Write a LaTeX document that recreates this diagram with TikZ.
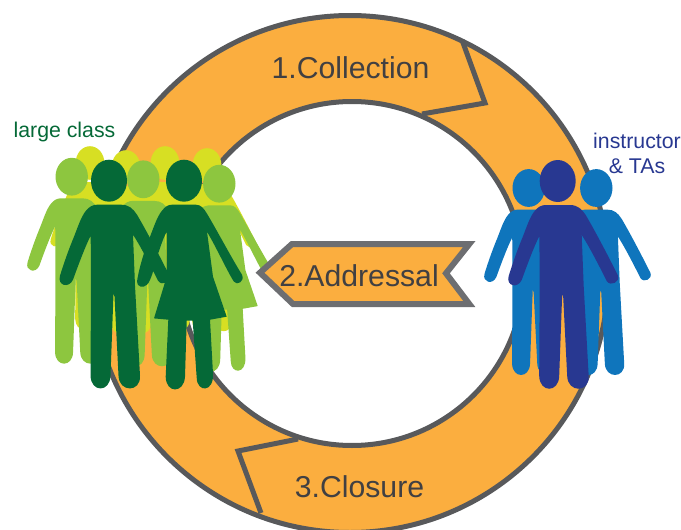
\documentclass[tikz,border=0pt]{standalone}
\usepackage{fontspec}
\setmainfont{Liberation Sans}
\definecolor{ringOrange}{HTML}{FBAE3F}
\definecolor{ringGrey}{HTML}{58595B}
\definecolor{tagGrey}{HTML}{6D6E71}
\definecolor{textGrey}{HTML}{414042}
\definecolor{darkGreen}{HTML}{056937}
\definecolor{midGreen}{HTML}{8DC63F}
\definecolor{paleGreen}{HTML}{D7DF23}
\definecolor{darkBlue}{HTML}{283891}
\definecolor{midBlue}{HTML}{0F75BC}
\tikzstyle{ringLine}=[draw = ringGrey, line width = 5pt, line join = miter]
\tikzstyle{tagLine}=[draw = tagGrey, fill = ringOrange, line width = 6pt, line join = miter]
\tikzstyle{stepLabel}=[inner sep = 0pt, text = textGrey, font = \fontsize{30.2}{36}\selectfont]
\tikzstyle{sideLabel}=[inner sep = 0pt, align = center, font = \fontsize{21.3}{26}\selectfont]
% x, y of the head, scale, colour
\newcommand{\Man}[4]{
\begin{scope}[shift = {(#1,#2)}, scale = #3]
\fill[#4] (0,0) ellipse [x radius = 18, y radius = 21];
\fill[#4] (-12,24) -- (12,24) .. controls (20,24) and (24,28) .. (28,34)
  .. controls (38,51) and (51,76) .. (60,94) .. controls (63,101) and (53,106) .. (49,100)
  .. controls (44,90) and (32,66) .. (24,54) -- (26,105) -- (31,195)
  .. controls (32,212) and (10,212) .. (9.5,195) -- (5.5,116) -- (4.5,113) -- (1.5,195)
  .. controls (1,212) and (-18,212) .. (-18.5,195) -- (-18,105) -- (-18.3,55)
  .. controls (-24,66) and (-32,88) .. (-36,99) .. controls (-40,108) and (-52,105) .. (-49,95)
  .. controls (-45,82) and (-40,68) .. (-35,56) .. controls (-31,46) and (-28,36) .. (-23,30)
  .. controls (-20,26) and (-16,24) .. (-12,24) -- cycle;
\end{scope}
}
\newcommand{\Woman}[4]{
\begin{scope}[shift = {(#1,#2)}, scale = #3]
\fill[#4] (0,0) ellipse [x radius = 18, y radius = 21];
\fill[#4] (-12,24) -- (12,24) .. controls (17,24) and (20,28) .. (23,33)
  .. controls (32,48) and (48,78) .. (58,94) .. controls (61,101) and (53,105) .. (50,101)
  .. controls (45,94) and (32,66) .. (23,51) -- (29,96) -- (42.7,136) -- (26,139) -- (29,193)
  .. controls (30,212) and (13,212) .. (12.7,197) -- (8.7,140) -- (2.7,140) -- (1,196)
  .. controls (0,213) and (-18,213) .. (-18.3,196) -- (-15.7,139) -- (-30,137.7)
  -- (-17.3,96) -- (-17.3,51) .. controls (-22,60) and (-24,68) .. (-27,76)
  .. controls (-30,88) and (-33,100) .. (-37,104) .. controls (-41,108) and (-47,106) .. (-47,101)
  .. controls (-46,92) and (-40,70) .. (-34,56) .. controls (-30,46) and (-27,36) .. (-22,30)
  .. controls (-19,26) and (-16,24) .. (-12,24) -- cycle;
\end{scope}
}
\begin{document}
\begin{tikzpicture}[x = 1pt, y = -1pt]
\path[use as bounding box, clip] (0,0) rectangle (681,530);
% ring
\fill[ringOrange, even odd rule] (350,274) circle [radius = 258.5] (352,273.5) circle [radius = 172];
\coordinate (c1a) at (462,40);
\coordinate (c1b) at (485,103);
\coordinate (c1c) at (422,114);
\coordinate (c3a) at (261,513);
\coordinate (c3b) at (238,451);
\coordinate (c3c) at (298,439);
\draw[ringLine] (350,274) circle [radius = 258.5];
\draw[ringLine] (352,273.5) circle [radius = 172];
\draw[ringLine] (c1a) -- (c1b) -- (c1c);
\draw[ringLine] (c3a) -- (c3b) -- (c3c);
\node[stepLabel] (collection) at (350.5,67.5) {1.Collection};
\node[stepLabel] (closure) at (359.5,486.5) {3.Closure};
% class
\Man{90}{163}{0.8}{paleGreen}
\Man{126}{167}{0.8}{paleGreen}
\Man{165}{163}{0.8}{paleGreen}
\Man{207}{165}{0.8}{paleGreen}
\Man{71.7}{176.7}{0.9}{midGreen}
\Man{143.3}{179.3}{0.9}{midGreen}
\Woman{219.3}{183.7}{0.9}{midGreen}
\Man{109}{180.7}{1}{darkGreen}
\Woman{184}{180.7}{1}{darkGreen}
% staff
\Man{528.7}{188}{0.9}{midBlue}
\Man{596.3}{188}{0.9}{midBlue}
\Man{557.7}{181}{1}{darkBlue}
% middle tag
\draw[tagLine] (260,272.7) -- (292,244) -- (469.3,244) -- (446,273.3) -- (469.3,304) -- (293,304) -- cycle;
\node[stepLabel] (addressal) at (359,275.5) {2.Addressal};
\node[sideLabel, text = darkGreen] (class) at (64.5,131.5) {large class};
\node[sideLabel, text = darkBlue] (staff) at (637,153) {instructor\\[-1pt]\& TAs};
\end{tikzpicture}
\end{document}
